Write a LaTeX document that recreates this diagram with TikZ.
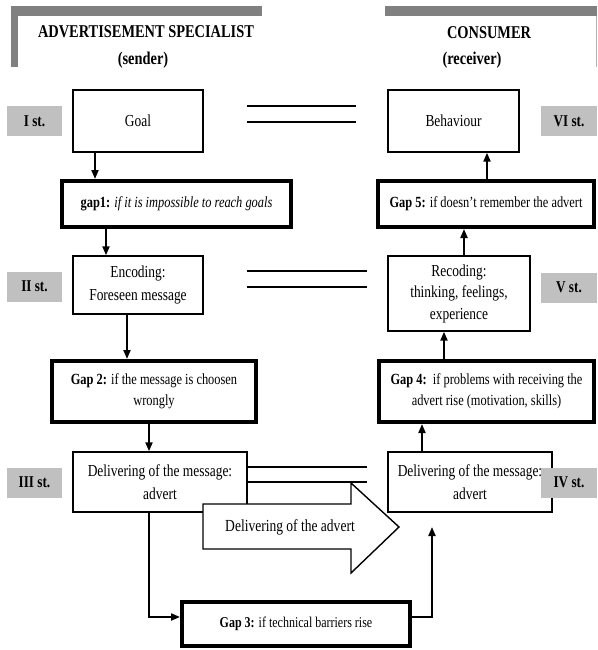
\documentclass[tikz,border=0pt]{standalone}
\usepackage{fontspec}
\setmainfont{Liberation Serif}[FakeStretch=0.8]
\usetikzlibrary{arrows.meta,calc}
\definecolor{bargray}{HTML}{808080}
\definecolor{stgray}{HTML}{C0C0C0}
\begin{document}
\begin{tikzpicture}[x=1pt,y=-1pt,
  plainbox/.style={draw,line width=1.4pt,fill=white,align=center,inner sep=0pt,font=\fontsize{16.8}{22.5}\selectfont},
  gapbox/.style={draw,line width=4pt,fill=white,align=center,inner sep=0pt,font=\fontsize{15.5}{21}\selectfont},
  stage/.style={fill=stgray,minimum width=55pt,minimum height=30pt,inner sep=0pt,font=\bfseries\fontsize{16.5}{18}\selectfont},
  head/.style={inner sep=0pt,font=\bfseries\fontsize{18}{20}\selectfont},
  arr/.style={line width=2pt,-{Triangle[length=9pt,width=7pt]}},
  eq/.style={line width=2pt}]
\useasboundingbox (0,0) rectangle (597,650);
% headers
\fill[bargray] (11,6) rectangle (262,16);
\fill[bargray] (11,6) rectangle (18,67);
\fill[bargray] (385,6) rectangle (597,16);
\draw[bargray!60,line width=1pt] (596,16) -- (596,67);
\node[head] (hs) at (146,32) {ADVERTISEMENT SPECIALIST};
\node[head] (hs2) at (143,60) {(sender)};
\node[head] (hc) at (489,33) {CONSUMER};
\node[head] (hc2) at (472,60) {(receiver)};
% boxes
\node[plainbox,minimum width=130pt,minimum height=62pt] (goal) at (138,121) {Goal};
\node[plainbox,minimum width=131pt,minimum height=62pt] (behav) at (453.5,121) {Behaviour};
\node[gapbox,minimum width=229pt,minimum height=46pt] (gap1) at (176.5,204) {\textbf{gap1:} \textit{if it is impossible to reach goals}};
\node[gapbox,minimum width=216pt,minimum height=46pt] (gap5) at (486,204) {\textbf{Gap 5:} if doesn't remember the advert};
\node[plainbox,minimum width=130pt,minimum height=58pt] (enc) at (138,285) {Encoding:\\Foreseen message};
\node[plainbox,minimum width=142pt,minimum height=75pt,font=\fontsize{16.8}{21.5}\selectfont] (recod) at (459,293.5) {Recoding:\\thinking, feelings,\\experience};
\node[gapbox,minimum width=204pt,minimum height=61pt] (gap2) at (154,391.5) {\textbf{Gap 2:} if the message is choosen\\wrongly};
\node[gapbox,minimum width=215pt,minimum height=61pt] (gap4) at (486.5,391.5) {\textbf{Gap 4:}\ \ if problems with receiving the\\advert rise (motivation, skills)};
\node[plainbox,minimum width=174pt,minimum height=60pt] (delL) at (160,482) {Delivering of the message:\\advert};
% equal lines
\draw[eq] (247,106) -- (356,106);
\draw[eq] (247,122) -- (356,122);
\draw[eq] (247,271) -- (367,271);
\draw[eq] (247,287) -- (367,287);
\draw[eq] (delL.east |- 0,467) -- (367,467);
\draw[eq] (delL.east |- 0,482) -- (367,482);
% big arrow
\draw[line width=1.4pt,fill=white] (203,504) -- (351,504) -- (351,483) -- (399,527) -- (351,573) -- (351,549) -- (203,549) -- cycle;
\node[inner sep=0pt,font=\fontsize{16.9}{20}\selectfont] (bigtxt) at (290,527) {Delivering of the advert};
\node[plainbox,minimum width=164pt,minimum height=60pt] (delR) at (470,482) {Delivering of the message:\\advert};
\node[gapbox,minimum width=228pt,minimum height=44pt,font=\fontsize{15}{18}\selectfont] (gap3) at (296,624) {\textbf{Gap 3:} if technical barriers rise};
% stage labels
\node[stage] (s1) at (34.5,121) {I st.};
\node[stage] (s2) at (34.5,286.5) {II st.};
\node[stage] (s3) at (34.5,482.5) {III st.};
\node[stage,minimum width=56pt] (s6) at (569,121) {VI st.};
\node[stage,minimum width=56pt] (s5) at (569,287.5) {V st.};
\node[stage,minimum width=56pt] (s4) at (569,482.5) {IV st.};
% connectors
\draw[arr] (goal.south -| 95,0) -- (gap1.north -| 95,0);
\draw[arr] (gap1.south -| 106,0) -- (enc.north -| 106,0);
\draw[arr] (enc.south -| 127,0) -- (gap2.north -| 127,0);
\draw[arr] (gap2.south -| 149,0) -- (delL.north -| 149,0);
\draw[arr] (delR.north -| 422,0) -- (gap4.south -| 422,0);
\draw[arr] (gap4.north -| 444,0) -- (recod.south -| 444,0);
\draw[arr] (recod.north -| 464,0) -- (gap5.south -| 464,0);
\draw[arr] (gap5.north -| 487,0) -- (behav.south -| 487,0);
\coordinate (g3up) at (432,527);
\draw[arr] (delL.south -| 149,0) |- (gap3.west |- 0,617);
\draw[arr] (gap3.east |- 0,617) -| (g3up);
\end{tikzpicture}
\end{document}
